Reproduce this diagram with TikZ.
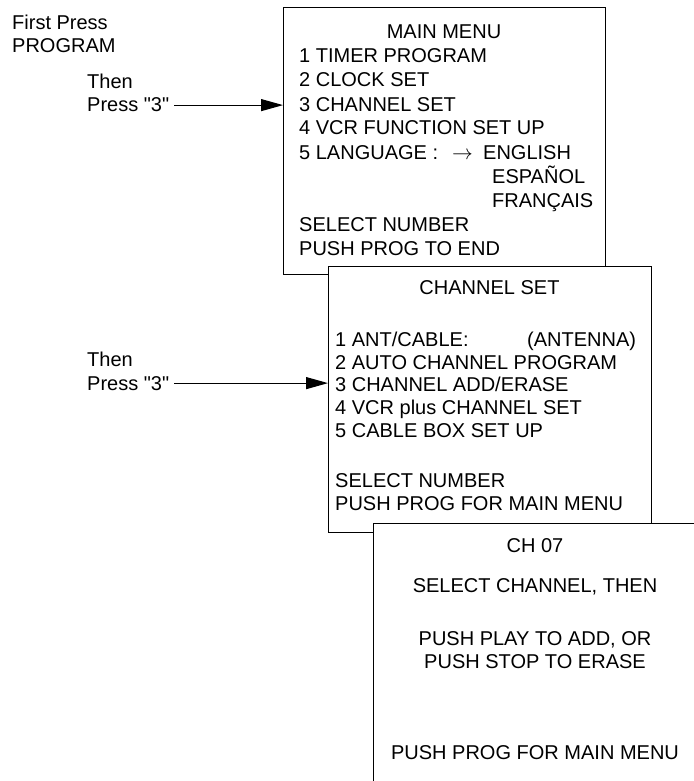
\documentclass[tikz,border=0pt]{standalone}
\usepackage{fontspec}
\setmainfont{Liberation Sans}[Ligatures=TeXOff]
\usetikzlibrary{arrows.meta,positioning,calc}

\begin{document}
\begin{tikzpicture}[x=1pt,y=-1pt,screen/.style={draw,fill=white,line width=1.2pt,anchor=north west,inner sep=0pt},item/.style={anchor=base west,inner sep=0pt,font=\fontsize{20}{24}\selectfont},title/.style={anchor=base,inner sep=0pt,font=\fontsize{20}{24}\selectfont},arr/.style={-{Triangle[length=22pt,width=12pt]},line width=1.1pt}]
\useasboundingbox (0,0) rectangle (693,781);
% the three screens, back to front
\node[screen,minimum width=322pt,minimum height=267pt] (mainmenu) at (283,7) {};
\node[screen,minimum width=323pt,minimum height=266pt] (chanset) at (328,266) {};
\node[screen,minimum width=330pt,minimum height=300pt] (adderase) at (373,523) {};
% key presses
\node[item] (first) at (12,30) {First Press};
\node[item] (program) at (12,53) {PROGRAM};
\node[item] (then1) at (87,89) {Then};
\node[item] (press1) at (87,112) {Press "3"};
\node[item] (then2) at (87,366) {Then};
\node[item] (press2) at (87,390) {Press "3"};
% main menu
\node[title] (mmtitle) at (444,39) {MAIN MENU};
\node[item] (mm1) at (299,63) {1 TIMER PROGRAM};
\node[item] (mm2) at (299,87) {2 CLOCK SET};
\node[item] (mm3) at (299,111) {3 CHANNEL SET};
\node[item] (mm4) at (299,135) {4 VCR FUNCTION SET UP};
\node[item] (mm5) at (299,159) {5 LANGUAGE :};
\node[item] (langarrow) at (452,159) {$\rightarrow$};
\node[item] (english) at (483,159) {ENGLISH};
\node[item] (espanol) at (492,183) {ESPAÑOL};
\node[item] (francais) at (492,207) {FRANÇAIS};
\node[item] (mmselect) at (299,231) {SELECT NUMBER};
\node[item] (mmend) at (299,255) {PUSH PROG TO END};
% channel set
\node[title] (cstitle) at (489.5,294) {CHANNEL SET};
\node[item] (cs1) at (335,346) {1 ANT/CABLE:};
\node[item] (antenna) at (527,346) {(ANTENNA)};
\node[item] (cs2) at (335,369) {2 AUTO CHANNEL PROGRAM};
\node[item] (cs3) at (335,391) {3 CHANNEL ADD/ERASE};
\node[item] (cs4) at (335,414) {4 VCR plus CHANNEL SET};
\node[item] (cs5) at (335,437) {5 CABLE BOX SET UP};
\node[item] (csselect) at (335,487) {SELECT NUMBER};
\node[item] (csprog) at (335,510) {PUSH PROG FOR MAIN MENU};
% channel add/erase
\node[title] (ch) at (535,552) {CH 07};
\node[title] (aeselect) at (535,592) {SELECT CHANNEL, THEN};
\node[title] (aeplay) at (535,645) {PUSH PLAY TO ADD, OR};
\node[title] (aestop) at (535,668) {PUSH STOP TO ERASE};
\node[title] (aeprog) at (535,759) {PUSH PROG FOR MAIN MENU};
\draw[arr] ([xshift=5pt]press1.east)--(press1.east -| mainmenu.west);
\draw[arr] ([xshift=5pt]press2.east)--(press2.east -| chanset.west);
\end{tikzpicture}
\end{document}
